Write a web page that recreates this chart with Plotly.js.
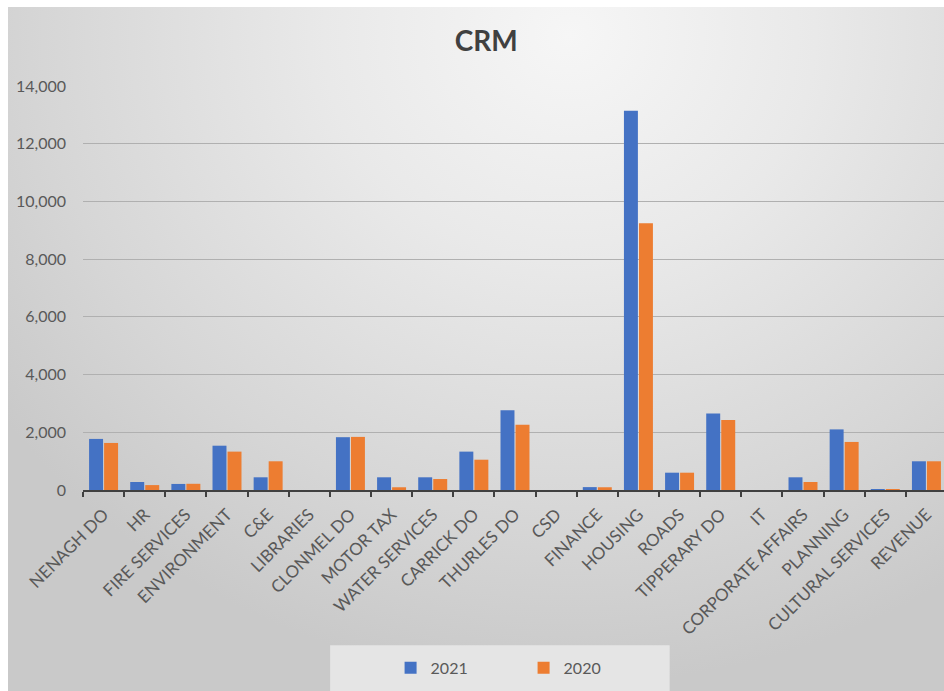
<!DOCTYPE html>
<html>
<head>
<meta charset="utf-8">
<script src="https://cdn.plot.ly/plotly-3.0.1.min.js"></script>
<style>
  html, body { margin: 0; padding: 0; background: #ffffff; overflow: hidden; width: 944px; height: 691px; }
  #bg { position: absolute; left: 8px; top: 7px; width: 936px; height: 684px;
        background: radial-gradient(ellipse 75% 95% at 60% 4%, #f6f6f6 0%, #e9e9e9 35%, #d6d6d6 75%, #c9c9c9 100%); }
  #chart { position: absolute; left: 0; top: 0; width: 948px; height: 691px; }
</style>
</head>
<body>
<div id="bg"></div>
<div id="chart"></div>
<script>
const categories = ["NENAGH DO", "HR", "FIRE SERVICES", "ENVIRONMENT", "C&E", "LIBRARIES",
  "CLONMEL DO", "MOTOR TAX", "WATER SERVICES", "CARRICK DO", "THURLES DO", "CSD",
  "FINANCE", "HOUSING", "ROADS", "TIPPERARY DO", "IT", "CORPORATE AFFAIRS",
  "PLANNING", "CULTURAL SERVICES", "REVENUE"];
const values2021 = [1770, 277, 210, 1535, 440, 0, 1830, 440, 440, 1330, 2760, 0,
  100, 13140, 600, 2655, 0, 440, 2100, 25, 995];
const values2020 = [1630, 170, 215, 1330, 995, 0, 1840, 95, 380, 1050, 2265, 0,
  95, 9240, 600, 2425, 0, 277, 1665, 20, 995];
const yTicks = [0, 2000, 4000, 6000, 8000, 10000, 12000, 14000];

const font = "Lato, 'Open Sans', sans-serif";

const traces = [
  { type: "bar", name: "2021", x: categories, y: values2021,
    marker: { color: "#4472C4" }, hoverinfo: "x+y" },
  { type: "bar", name: "2020", x: categories, y: values2020,
    marker: { color: "#ED7D31" }, hoverinfo: "x+y" }
];

const layout = {
  width: 948, height: 691,
  paper_bgcolor: "rgba(0,0,0,0)", plot_bgcolor: "rgba(0,0,0,0)",
  margin: { l: 83, r: 1, t: 86, b: 201 },
  title: { text: "<b>CRM</b>", x: 0.513, xanchor: "center", y: 0.94, yanchor: "middle",
    font: { family: font, size: 28, color: "#404040" } },
  barmode: "group", bargap: 0.27, bargroupgap: 0.07,
  xaxis: {
    type: "category", tickangle: -45, tickson: "boundaries",
    ticks: "outside", ticklen: 5, tickwidth: 2, tickcolor: "#404040",
    showline: true, linecolor: "#404040", linewidth: 2,
    showgrid: false, ticklabelstandoff: 6,
    tickfont: { family: font, size: 17, color: "#595959" },
    fixedrange: true
  },
  yaxis: {
    range: [0, 14000], tickvals: yTicks, tickformat: ",",
    showgrid: true, gridcolor: "#b0b0b0", gridwidth: 1,
    zeroline: false, showline: false, ticks: "",
    ticklabelstandoff: 16,
    tickfont: { family: font, size: 16, color: "#595959" }, fixedrange: true
  },
  showlegend: true,
  legend: { orientation: "h", x: 0.356, xanchor: "left", y: -0.44, yanchor: "middle",
    bgcolor: "rgba(0,0,0,0)", entrywidth: 88, entrywidthmode: "pixels",
    itemwidth: 30, font: { family: font, size: 16, color: "#595959" } },
  shapes: [
    { type: "rect", xref: "paper", yref: "paper", x0: 0.286, x1: 0.679, y0: -0.5, y1: -0.384,
      fillcolor: "rgba(238,238,238,0.75)", line: { width: 0 }, layer: "below" }
  ]
};

Plotly.newPlot("chart", traces, layout, { displayModeBar: false, staticPlot: false });
</script>
</body>
</html>
